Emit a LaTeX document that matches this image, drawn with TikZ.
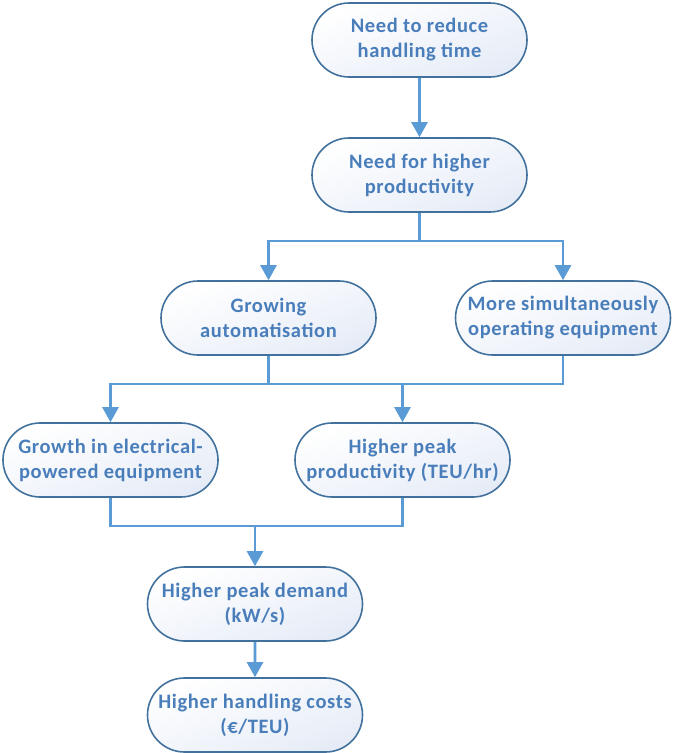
\documentclass[tikz,border=0pt]{standalone}
\usepackage{fontspec}
\setmainfont{Carlito}[LetterSpace=3]
\usetikzlibrary{arrows.meta,shapes.misc}
\definecolor{linkblue}{HTML}{5B9BD5}
\definecolor{edgeblue}{HTML}{41719C}
\definecolor{textblue}{HTML}{4A7EBB}
\definecolor{fillblue}{HTML}{E6ECF7}
\tikzset{
  stage/.style={rounded rectangle, draw=edgeblue, line width=1.6pt,
    top color=white, bottom color=fillblue, shading angle=20,
    minimum width=215pt, minimum height=74pt, inner sep=0pt,
    align=center, text=textblue,
    font=\bfseries\fontsize{20.5}{25}\selectfont},
  link/.style={draw=linkblue, line width=2.6pt},
  arr/.style={link, -{Triangle[width=16pt,length=15pt]}}
}
\begin{document}
\begin{tikzpicture}[x=1pt, y=-1pt]
  \useasboundingbox (0,0) rectangle (673,753);
  % stages
  \node[stage] (reduce) at (419.5,40) {Need to reduce\\handling time};
  \node[stage] (prod) at (419.5,175) {Need for higher\\productivity};
  \node[stage] (grow) at (268.5,318) {Growing\\automatisation};
  \node[stage] (simul) at (563,318) {More simultaneously\\operating equipment};
  \node[stage] (elec) at (110.5,460) {Growth in electrical-\\powered equipment};
  \node[stage] (peak) at (402.5,460) {Higher peak\\productivity (TEU/hr)};
  \node[stage] (demand) at (255,604) {Higher peak demand\\(kW/s)};
  \node[stage] (cost) at (255,715) {Higher handling costs\\(€/TEU)};
  % junctions
  \coordinate (split) at (419.5,241);
  \coordinate (join) at (268.5,384);
  \coordinate (merge) at (255,526);
  % connectors
  \draw[arr] (reduce) -- (prod);
  \draw[link] (prod) -- (split);
  \draw[arr] (split) -| (grow);
  \draw[arr] (split) -| (simul);
  \draw[link] (grow) -- (join);
  \draw[link] (simul.south) |- (join);
  \draw[arr] (join) -| (elec);
  \draw[arr] (join) -| (peak);
  \draw[link] (elec.south) |- (merge);
  \draw[link] (peak.south) |- (merge);
  \draw[arr] (merge) -- (demand);
  \draw[arr] (demand) -- (cost);
\end{tikzpicture}
\end{document}
